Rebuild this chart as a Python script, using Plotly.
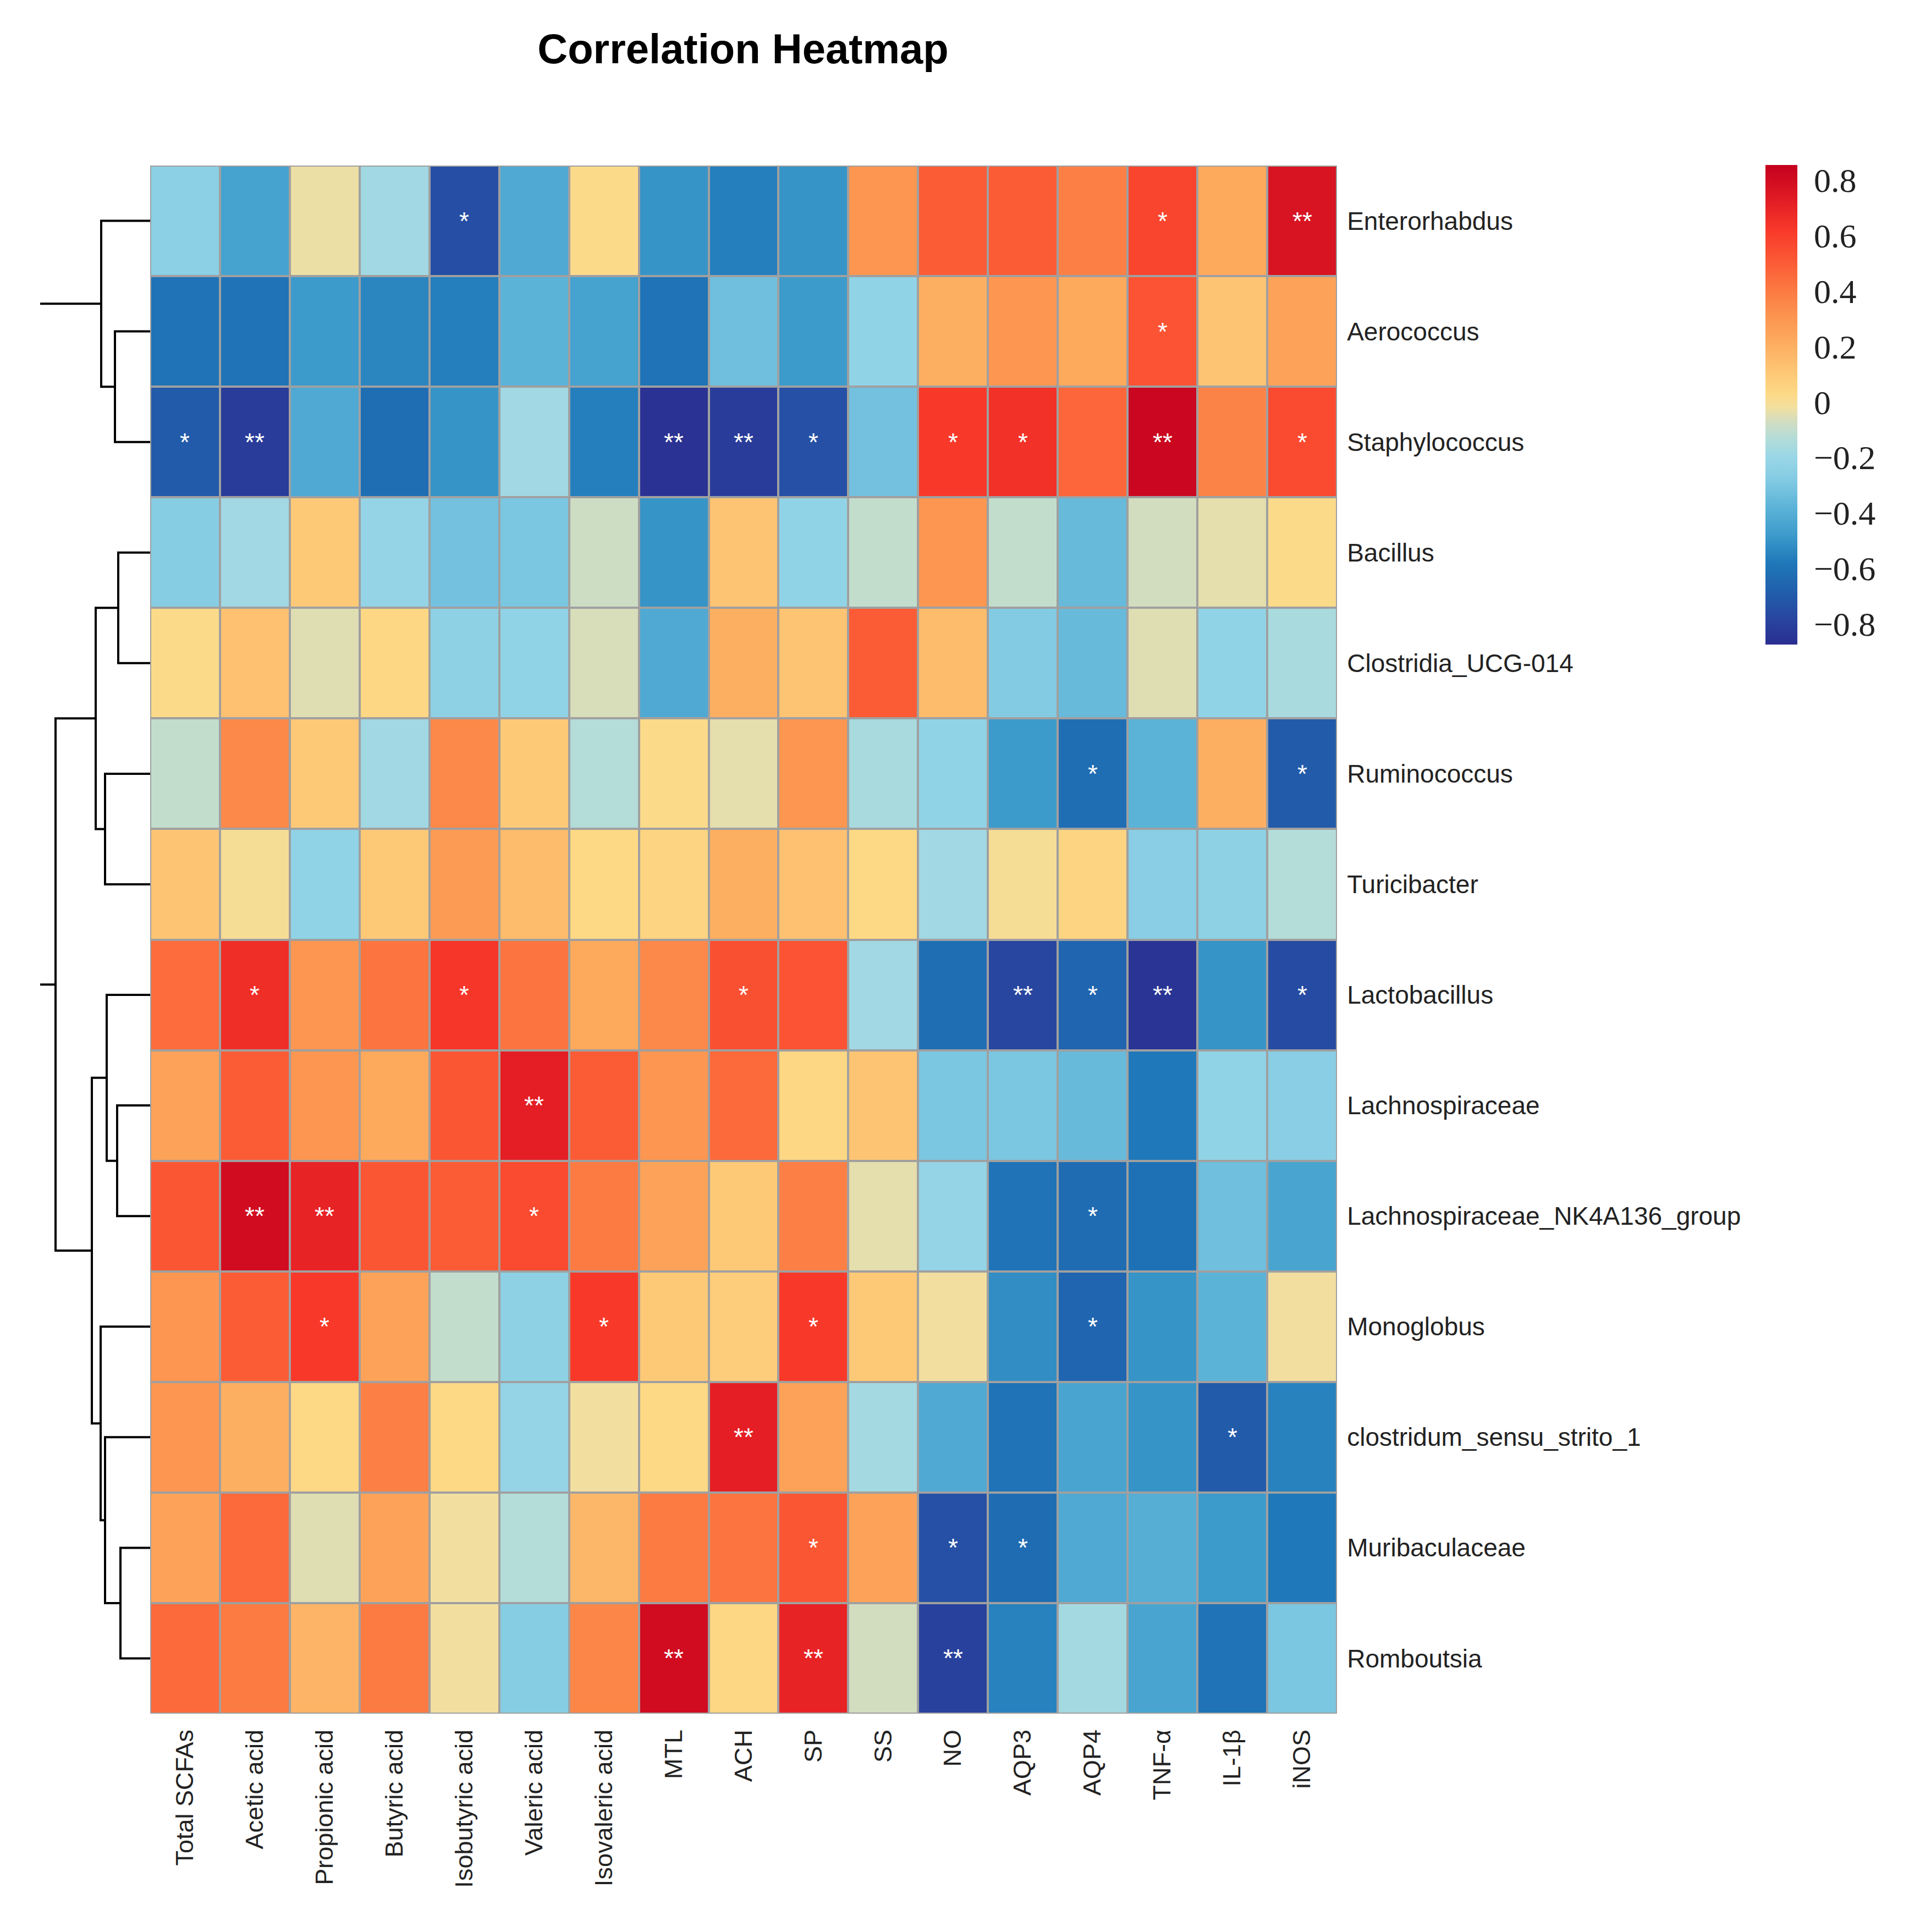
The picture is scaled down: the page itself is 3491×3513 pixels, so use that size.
import plotly.graph_objects as go

# ---- data ----
col_names = ['Total SCFAs', 'Acetic acid', 'Propionic acid', 'Butyric acid',
             'Isobutyric acid', 'Valeric acid', 'Isovaleric acid', 'MTL', 'ACH',
             'SP', 'SS', 'NO', 'AQP3', 'AQP4', 'TNF-α', 'IL-1β', 'iNOS']

row_names = ['Enterorhabdus', 'Aerococcus', 'Staphylococcus', 'Bacillus',
             'Clostridia_UCG-014', 'Ruminococcus', 'Turicibacter', 'Lactobacillus',
             'Lachnospiraceae', 'Lachnospiraceae_NK4A136_group', 'Monoglobus',
             'clostridum_sensu_strito_1', 'Muribaculaceae', 'Romboutsia']

corr = [
    [-0.25, -0.45, -0.03, -0.18, -0.75, -0.42, 0.02, -0.50, -0.56, -0.50, 0.30, 0.50, 0.50, 0.38, 0.58, 0.22, 0.77],
    [-0.60, -0.60, -0.48, -0.54, -0.56, -0.38, -0.45, -0.60, -0.33, -0.48, -0.23, 0.20, 0.30, 0.22, 0.53, 0.12, 0.25],
    [-0.70, -0.82, -0.42, -0.62, -0.50, -0.18, -0.56, -0.86, -0.82, -0.74, -0.32, 0.62, 0.65, 0.47, 0.83, 0.37, 0.56],
    [-0.27, -0.18, 0.10, -0.22, -0.32, -0.30, -0.08, -0.50, 0.12, -0.23, -0.10, 0.30, -0.10, -0.35, -0.07, -0.04, 0.02],
    [0.02, 0.13, -0.05, 0.04, -0.24, -0.23, -0.06, -0.42, 0.20, 0.12, 0.50, 0.15, -0.28, -0.35, -0.05, -0.23, -0.16],
    [-0.10, 0.35, 0.10, -0.18, 0.35, 0.10, -0.13, 0.02, -0.04, 0.30, -0.16, -0.23, -0.48, -0.62, -0.38, 0.20, -0.70],
    [0.12, 0.00, -0.23, 0.10, 0.28, 0.15, 0.03, 0.05, 0.20, 0.13, 0.03, -0.18, 0.00, 0.05, -0.26, -0.24, -0.13],
    [0.45, 0.66, 0.30, 0.42, 0.63, 0.42, 0.22, 0.35, 0.54, 0.53, -0.18, -0.62, -0.78, -0.66, -0.85, -0.50, -0.76],
    [0.25, 0.50, 0.30, 0.22, 0.52, 0.72, 0.50, 0.30, 0.46, 0.04, 0.12, -0.30, -0.30, -0.35, -0.58, -0.23, -0.26],
    [0.52, 0.80, 0.70, 0.52, 0.50, 0.56, 0.40, 0.25, 0.10, 0.38, -0.04, -0.22, -0.60, -0.63, -0.61, -0.33, -0.44],
    [0.30, 0.50, 0.62, 0.25, -0.10, -0.24, 0.62, 0.10, 0.08, 0.62, 0.10, -0.02, -0.52, -0.66, -0.50, -0.38, -0.02],
    [0.30, 0.20, 0.03, 0.38, 0.03, -0.22, -0.02, 0.03, 0.72, 0.25, -0.17, -0.42, -0.60, -0.44, -0.50, -0.70, -0.55],
    [0.25, 0.46, -0.05, 0.25, -0.02, -0.13, 0.17, 0.40, 0.42, 0.52, 0.25, -0.74, -0.63, -0.42, -0.40, -0.48, -0.58],
    [0.46, 0.40, 0.18, 0.40, -0.02, -0.27, 0.36, 0.80, 0.04, 0.70, -0.07, -0.80, -0.55, -0.17, -0.44, -0.60, -0.30],
]

stars = [
    ['', '', '', '', '*', '', '', '', '', '', '', '', '', '', '*', '', '**'],
    ['', '', '', '', '', '', '', '', '', '', '', '', '', '', '*', '', ''],
    ['*', '**', '', '', '', '', '', '**', '**', '*', '', '*', '*', '', '**', '', '*'],
    ['', '', '', '', '', '', '', '', '', '', '', '', '', '', '', '', ''],
    ['', '', '', '', '', '', '', '', '', '', '', '', '', '', '', '', ''],
    ['', '', '', '', '', '', '', '', '', '', '', '', '', '*', '', '', '*'],
    ['', '', '', '', '', '', '', '', '', '', '', '', '', '', '', '', ''],
    ['', '*', '', '', '*', '', '', '', '*', '', '', '', '**', '*', '**', '', '*'],
    ['', '', '', '', '', '**', '', '', '', '', '', '', '', '', '', '', ''],
    ['', '**', '**', '', '', '*', '', '', '', '', '', '', '', '*', '', '', ''],
    ['', '', '*', '', '', '', '*', '', '', '*', '', '', '', '*', '', '', ''],
    ['', '', '', '', '', '', '', '', '**', '', '', '', '', '', '', '*', ''],
    ['', '', '', '', '', '', '', '', '', '*', '', '*', '*', '', '', '', ''],
    ['', '', '', '', '', '', '', '**', '', '**', '', '**', '', '', '', '', ''],
]

# row clustering, hclust style: negative = leaf (1-based row), positive = earlier merge
merge_a = [-2, -1, -4, -6, 3, -9, -8, -13, -12, -11, 7, 5, 2]
merge_b = [-3, 1, -5, -7, 4, -10, 6, -14, 8, 9, 10, 11, 12]
merge_h = [0.64, 0.89, 0.58, 0.82, 0.99, 0.60, 0.79, 0.54, 0.82, 0.90, 1.06, 1.72, 2.60]

cbar_ticks = [0.8, 0.6, 0.4, 0.2, 0, -0.2, -0.4, -0.6, -0.8]
cbar_text = ['0.8', '0.6', '0.4', '0.2', '0', '−0.2', '−0.4', '−0.6', '−0.8']

ZMIN, ZMAX = -0.875, 0.855

# ---- layout in pixels ----
W, H = 3491, 3513
hm_left, hm_right, hm_top, hm_bottom = 265, 2423, 293, 3108
tree_left = 65


def px_x(p):
    return p / W


def px_y(p):
    return 1 - p / H


stops = [(-0.875, '#2A2E91'), (-0.78, '#2846A0'), (-0.68, '#2060AC'), (-0.58, '#1F78B9'),
         (-0.48, '#3D9BCB'), (-0.38, '#5CB3D8'), (-0.28, '#83CBE3'), (-0.20, '#99D7E7'),
         (-0.13, '#B4DCD8'), (-0.07, '#D2DDC0'), (-0.02, '#F2DFA0'), (0.03, '#FDD985'),
         (0.12, '#FDC473'), (0.22, '#FDAA5D'), (0.32, '#FC914E'), (0.42, '#FC7540'),
         (0.52, '#FB5634'), (0.62, '#F8392A'), (0.72, '#E41E24'), (0.855, '#C4001F')]
colorscale = [[(v - ZMIN) / (ZMAX - ZMIN), c] for v, c in stops]


def tree_lines():
    node_y, node_h = {}, {}
    xs, ys = [], []

    def pos(k):
        if k < 0:
            return -k - 1, 0.0
        return node_y[k], node_h[k]

    for i, (a, b, h) in enumerate(zip(merge_a, merge_b, merge_h), start=1):
        ya, ha = pos(a)
        yb, hb = pos(b)
        xs += [ha, h, h, hb, None]
        ys += [ya, ya, yb, yb, None]
        node_y[i] = (ya + yb) / 2
        node_h[i] = h
    return xs, ys


fig = go.Figure()

fig.add_trace(go.Heatmap(
    z=corr, x=col_names, y=row_names, text=stars, texttemplate='%{text}',
    textfont=dict(color='white', size=46, family='Liberation Sans'),
    colorscale=colorscale, zmin=ZMIN, zmax=ZMAX, xgap=4, ygap=4,
    hoverinfo='skip',
    colorbar=dict(x=px_x(3202), xanchor='left', y=px_y(292), yanchor='top',
                  len=872 / H, lenmode='fraction', thickness=58, thicknessmode='pixels',
                  xpad=0, ypad=0, outlinewidth=0, tickvals=cbar_ticks, ticktext=cbar_text,
                  ticks='outside', ticklen=18, tickcolor='rgba(0,0,0,0)',
                  tickfont=dict(family='Liberation Serif', size=62, color='#222')),
))

tx, ty = tree_lines()
fig.add_trace(go.Scatter(x=tx, y=ty, mode='lines', xaxis='x2', yaxis='y2',
                         line=dict(color='black', width=4), hoverinfo='skip',
                         showlegend=False))

# grey cell borders: a grey panel under the heatmap shows through the gaps
fig.add_shape(type='rect', xref='x domain', yref='y domain', x0=0, x1=1, y0=0, y1=1,
              fillcolor='#A0A0A0', line=dict(width=0), layer='below')

fig.update_layout(
    width=W, height=H, autosize=False,
    margin=dict(l=0, r=0, t=0, b=0),
    paper_bgcolor='white', plot_bgcolor='white',
    font=dict(family='Liberation Sans', color='#222'),
    title=dict(text='<b>Correlation Heatmap</b>', x=px_x(1343), xanchor='center',
               y=px_y(80), yanchor='middle',
               font=dict(family='Liberation Sans', size=76, color='black')),
    xaxis=dict(domain=[px_x(hm_left), px_x(hm_right)], anchor='y', tickangle=-90,
               tickfont=dict(size=45), ticks='outside', ticklen=10,
               tickcolor='rgba(0,0,0,0)', showgrid=False, zeroline=False),
    yaxis=dict(domain=[px_y(hm_bottom), px_y(hm_top)], anchor='x', side='right',
               autorange='reversed', tickfont=dict(size=46), ticks='outside',
               ticklen=8, tickcolor='rgba(0,0,0,0)', showgrid=False, zeroline=False),
    xaxis2=dict(domain=[px_x(tree_left), px_x(hm_left)], anchor='y2', range=[2.0, 0],
                visible=False),
    yaxis2=dict(domain=[px_y(hm_bottom), px_y(hm_top)], anchor='x2',
                range=[len(row_names) - 0.5, -0.5], visible=False),
)

fig.write_html("out.html")
